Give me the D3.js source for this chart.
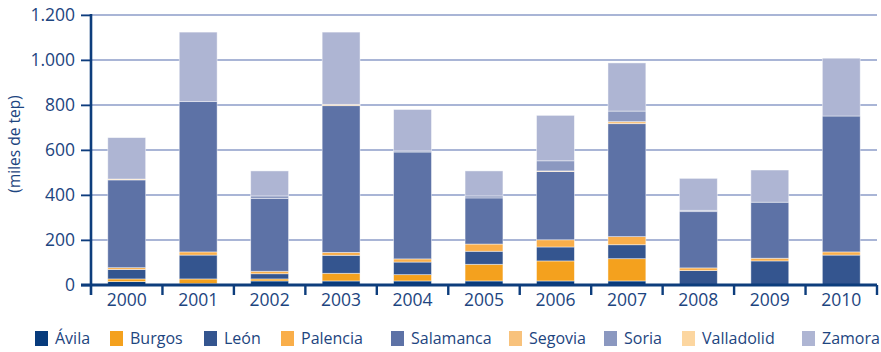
<!DOCTYPE html>
<html lang="es">
<head>
<meta charset="utf-8">
<script src="https://cdn.jsdelivr.net/npm/d3@7"></script>
<style>
  html, body { margin: 0; padding: 0; background: #fff; }
  svg { display: block; font-family: "Open Sans", "Noto Sans", sans-serif; }
</style>
</head>
<body>
<svg id="chart" width="881" height="352"></svg>
<script>
// Years along the x axis
const years = ["2000", "2001", "2002", "2003", "2004", "2005", "2006", "2007", "2008", "2009", "2010"];

// Provinces, in stacking order (bottom to top)
const provinces = ["Ávila", "Burgos", "León", "Palencia", "Salamanca", "Segovia", "Soria", "Valladolid", "Zamora"];

// Values per province, in miles de tep, one per year
const avila      = [15,   6,  18,  18,  18,  18,  18,  18,   0,   0,   0];
const burgos     = [12,  21,   9,  34,  28,  74,  89,  99,   0,   0,   0];
const leon       = [42, 106,  23,  80,  56,  58,  62,  62,  64, 107, 133];
const palencia   = [ 8,  14,  11,  13,  14,  32,  32,  36,  12,  12,  14];
const salamanca  = [390, 668, 324, 652, 475, 205, 303, 502, 250, 249, 604];
const segovia    = [ 0,   0,   0,   0,   0,   0,   3,   9,   0,   0,   0];
const soria      = [ 0,   0,  11,   0,   5,   9,  45,  47,   6,   0,   0];
const valladolid = [ 4,   0,   0,   6,   0,   0,   0,   0,   0,   0,   0];
const zamora     = [184, 309, 111, 321, 184, 111, 202, 214, 142, 143, 257];

// Y axis ticks
const yTicks = [0, 200, 400, 600, 800, 1000, 1200];
const yTickLabels = ["0", "200", "400", "600", "800", "1.000", "1.200"];
const yTitle = "(miles de tep)";

const colors = ["#073b7c", "#f4a11e", "#34558f", "#f9ae4a", "#5d72a6", "#f8c27c", "#8b98c0", "#fcd6a0", "#aeb5d3"];

const seriesValues = [avila, burgos, leon, palencia, salamanca, segovia, soria, valladolid, zamora];
const rows = years.map((y, i) => {
  const r = { year: y };
  provinces.forEach((p, k) => { r[p] = seriesValues[k][i]; });
  return r;
});

const svg = d3.select("#chart");
const axisColor = "#0d3d7c";
const gridColor = "#8d9cc8";
const textColor = "#1d4580";

const x = d3.scaleBand().domain(years).range([91, 877]).paddingInner(0.47).paddingOuter(0.235);
const xBand = d3.scaleBand().domain(years).range([91, 877]);
const y = d3.scaleLinear().domain([0, 1200]).range([285, 15]);

// Gridlines
svg.append("g")
  .selectAll("line")
  .data(yTicks.filter(d => d > 0))
  .join("line")
  .attr("x1", 81).attr("x2", 877)
  .attr("y1", d => y(d)).attr("y2", d => y(d))
  .attr("stroke", gridColor).attr("stroke-width", 1.6);

// Stacked bars
const stack = d3.stack().keys(provinces)(rows);
svg.append("g")
  .selectAll("g")
  .data(stack)
  .join("g")
  .attr("fill", (d, i) => colors[i])
  .selectAll("rect")
  .data(d => d.filter(s => s[1] - s[0] > 0))
  .join("rect")
  .attr("x", d => x(d.data.year))
  .attr("width", x.bandwidth())
  .attr("y", d => y(d[1]))
  .attr("height", d => y(d[0]) - y(d[1]))
  .attr("stroke", "rgba(255,255,255,0.55)")
  .attr("stroke-width", 0.8);

// Y axis
const yAxis = svg.append("g").attr("transform", "translate(91,0)")
  .call(d3.axisLeft(y).tickValues(yTicks).tickSize(10).tickPadding(6)
    .tickFormat((d, i) => yTickLabels[i]));
yAxis.select(".domain").remove();
yAxis.selectAll(".tick line").attr("stroke", axisColor).attr("stroke-width", 1.6);
yAxis.selectAll(".tick text").attr("fill", textColor).attr("font-size", 17.5)
  .attr("font-family", "Open Sans, sans-serif");
svg.append("line").attr("x1", 91).attr("x2", 91).attr("y1", 14).attr("y2", 295)
  .attr("stroke", axisColor).attr("stroke-width", 2.6);

// X axis baseline with ticks between years
svg.append("line").attr("x1", 81).attr("x2", 877).attr("y1", y(0)).attr("y2", y(0))
  .attr("stroke", axisColor).attr("stroke-width", 3);
const boundaries = years.map(d => xBand(d)).concat([xBand(years[years.length - 1]) + xBand.bandwidth()]);
svg.append("g").selectAll("line").data(boundaries.slice(1)).join("line")
  .attr("x1", d => d).attr("x2", d => d)
  .attr("y1", y(0)).attr("y2", 295)
  .attr("stroke", axisColor).attr("stroke-width", 2.4);
svg.append("g").selectAll("text").data(years).join("text")
  .attr("x", d => xBand(d) + xBand.bandwidth() / 2)
  .attr("y", 306)
  .attr("text-anchor", "middle")
  .attr("fill", textColor).attr("font-size", 17.5)
  .text(d => d);

// Y axis title
svg.append("text")
  .attr("transform", "translate(20,144) rotate(-90)")
  .attr("text-anchor", "middle")
  .attr("fill", textColor).attr("font-size", 15.5)
  .text(yTitle);

// Legend
const legendX = [35, 110, 204, 281, 391, 509, 604, 682, 802];
const legend = svg.append("g").selectAll("g").data(provinces).join("g")
  .attr("transform", (d, i) => `translate(${legendX[i]},331)`);
legend.append("rect").attr("width", 13).attr("height", 15).attr("fill", (d, i) => colors[i]);
legend.append("text").attr("x", 20).attr("y", 13)
  .attr("fill", textColor).attr("font-size", 16)
  .text(d => d);
</script>
</body>
</html>
